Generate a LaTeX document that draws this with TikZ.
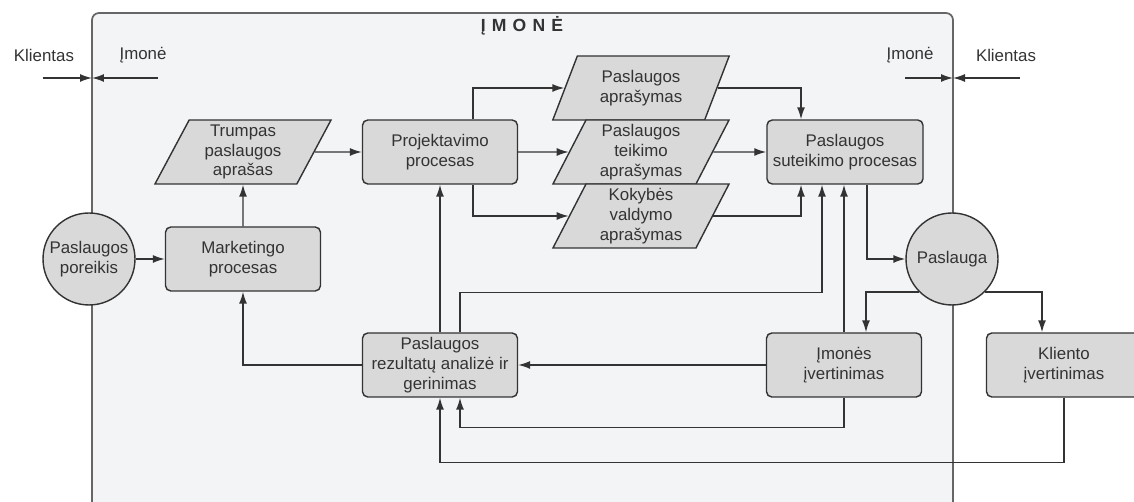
\documentclass[tikz,border=0pt]{standalone}
\usepackage{fontspec}
\setmainfont{Liberation Sans}
\usetikzlibrary{arrows.meta,shapes.geometric}

\definecolor{firmfill}{HTML}{F3F4F6}
\definecolor{boxfill}{HTML}{D9D9D9}
\definecolor{linegray}{HTML}{333333}

\tikzset{
    txt/.style={text=linegray, font=\fontsize{9.6}{11.3}\selectfont},
    proc/.style={txt, rectangle, rounded corners=3pt, draw=linegray, fill=boxfill, line width=0.8pt,
        minimum width=3.1cm, minimum height=1.28cm, inner ysep=1pt, align=center},
    doc/.style={txt, trapezium, trapezium left angle=65, trapezium right angle=115, trapezium stretches=true,
        draw=linegray, fill=boxfill, line width=0.8pt, minimum width=3.54cm, minimum height=1.28cm,
        inner ysep=0pt, inner xsep=1pt, align=center},
    round/.style={txt, circle, draw=linegray, fill=boxfill, line width=0.8pt, minimum size=1.84cm,
        inner sep=0pt, align=center},
    arr/.style={-{Latex[length=2.4mm,width=1.6mm]}, draw=linegray, line width=0.8pt},
    firm/.style={draw=black!60, fill=firmfill, line width=1pt, rounded corners=4pt}
}

\begin{document}
\begin{tikzpicture}[x=0.02cm, y=-0.02cm]

    % Keep the picture at the size of the reference
    \clip (0,0) rectangle (1134,502);

    % Company area, open at the bottom
    \draw[firm] (92,530) -- (92,13) -- (953,13) -- (953,530);
    \node[txt, font=\fontsize{10}{12}\selectfont\bfseries] (title) at (522,26)
        {Į\hspace{3.5pt}M\hspace{3.5pt}O\hspace{3.5pt}N\hspace{3.5pt}Ė};

    % Border labels with the small arrows at both sides
    \node[txt] (klL) at (44,55) {Klientas};
    \node[txt] (imL) at (143,55) {Įmonė};
    \node[txt] (imR) at (910,55) {Įmonė};
    \node[txt] (klR) at (1006,55) {Klientas};
    \coordinate (bL) at (92,78);
    \coordinate (bR) at (953,78);
    \coordinate (klLa) at (43,78);
    \coordinate (imLa) at (158,78);
    \coordinate (imRa) at (905,78);
    \coordinate (klRa) at (1020,78);
    \foreach \s/\e in {klLa/bL, imLa/bL, imRa/bR, klRa/bR}
        \draw[arr] (\s) -- (\e);

    % Processes, documents and the two circles
    \node[round] (pore) at (89,259) {Paslaugos\\poreikis};
    \node[proc] (mark) at (243,259) {Marketingo\\procesas};
    \node[doc] (trump) at (243,152) {Trumpas\\paslaugos\\aprašas};
    \node[proc] (proj) at (440,152) {Projektavimo\\procesas};
    \node[doc] (apr) at (641,88) {Paslaugos\\aprašymas};
    \node[doc] (teik) at (641,152) {Paslaugos\\teikimo\\aprašymas};
    \node[doc] (kok) at (641,216) {Kokybės\\valdymo\\aprašymas};
    \node[proc] (sut) at (845,152) {Paslaugos\\suteikimo procesas};
    \node[round] (pasl) at (952,259) {Paslauga};
    \node[proc] (anal) at (440,365) {Paslaugos\\rezultatų analizė ir\\gerinimas};
    \node[proc] (imv) at (844,365) {Įmonės\\įvertinimas};
    \node[proc] (klv) at (1064,365) {Kliento\\įvertinimas};

    % Main flow
    \draw[arr] (pore) -- (mark);
    \draw[arr] (mark) -- (trump);
    \draw[arr] (trump) -- (proj);
    \draw[arr] (proj) -- (teik);
    \draw[arr] ([xshift=.66cm]proj.north) |- (apr);
    \draw[arr] ([xshift=.66cm]proj.south) |- (kok);
    \draw[arr] (apr) -| ([xshift=-.88cm]sut.north);
    \draw[arr] (teik) -- (sut);
    \draw[arr] (kok) -| ([xshift=-.88cm]sut.south);
    \draw[arr] ([xshift=.44cm]sut.south) |- (pasl);
    \draw[arr] (pasl.225) -| ([xshift=.44cm]imv.north);
    \draw[arr] (pasl.315) -| ([xshift=-.44cm]klv.north);

    % Feedback loops
    \draw[arr] (anal) -| (mark);
    \draw[arr] (anal) -- (proj);
    \draw[arr] ([xshift=.4cm]anal.north) |- ([xshift=-.46cm,yshift=-2.16cm]sut.south) -- ([xshift=-.46cm]sut.south);
    \draw[arr] (imv.north) -- (imv.north |- sut.south);
    \draw[arr] (imv) -- (anal);
    \draw[arr] (imv.south) |- ([xshift=.4cm,yshift=-.6cm]anal.south) -- ([xshift=.4cm]anal.south);
    \draw[arr] (klv.south) |- ([yshift=-1.3cm]anal.south) -- (anal.south);

\end{tikzpicture}
\end{document}
